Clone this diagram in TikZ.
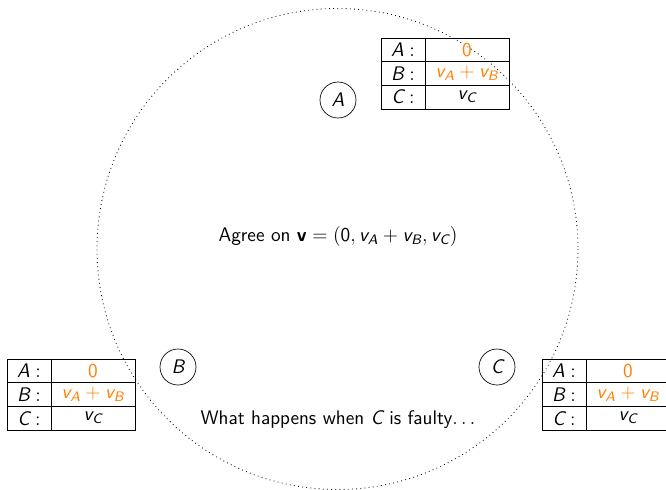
\documentclass[tikz,border=0pt]{standalone}
\renewcommand{\familydefault}{\sfdefault}
% sans serif letters in math, as on the slide
\DeclareSymbolFont{sfletters}{TU}{lmss}{m}{sl}
\DeclareSymbolFont{sfdigits}{TU}{lmss}{m}{n}
\DeclareMathSymbol{A}{\mathalpha}{sfletters}{`A}
\DeclareMathSymbol{B}{\mathalpha}{sfletters}{`B}
\DeclareMathSymbol{C}{\mathalpha}{sfletters}{`C}
\DeclareMathSymbol{v}{\mathalpha}{sfletters}{`v}
\DeclareMathSymbol{0}{\mathalpha}{sfdigits}{`0}
\DeclareMathAlphabet{\mathbf}{TU}{lmss}{bx}{n}
\definecolor{valorange}{RGB}{255,127,0}
\usetikzlibrary{positioning}

\tikzset{
  every node/.style={font=\fontsize{11.8}{14}\selectfont},
  proc/.style={draw, circle, minimum size=21.6pt, inner sep=0pt},
  keycell/.style={draw, line width=0.6pt, minimum width=26.4pt, minimum height=14.2pt, inner sep=0pt, outer sep=0pt},
  valcell/.style={keycell, minimum width=50.4pt},
}

% one table of received values, north west corner at (#2,#3)
\newcommand{\valtable}[3]{%
  \node[keycell, anchor=north west] (#1ka) at (#2,#3) {$A:$};
  \node[valcell, right=0pt of #1ka, text=valorange] (#1va) {$0$};
  \node[keycell, below=0pt of #1ka] (#1kb) {$B:$};
  \node[valcell, right=0pt of #1kb, text=valorange] (#1vb) {$v_A+v_B$};
  \node[keycell, below=0pt of #1kb] (#1kc) {$C:$};
  \node[valcell, right=0pt of #1kc] (#1vc) {$v_C$};
}

\begin{document}
\begin{tikzpicture}[x=0.6pt, y=-0.6pt]
  \useasboundingbox (0,0) rectangle (666,489);
  \draw[dotted, line width=0.5pt] (337.5,249) circle[radius=240.5];

  \node[proc] (A) at (338,100) {$A$};
  \node[proc] (B) at (178,367) {$B$};
  \node[proc] (C) at (497,367) {$C$};

  \valtable{tA}{381}{38}
  \valtable{tB}{7}{359}
  \valtable{tC}{542}{359}

  \node (agree) at (338,236) {Agree on $\mathbf{v} = (0, v_A + v_B, v_C)$};
  \node (faulty) at (338,420) {What happens when $C$ is faulty$\ldots$};
\end{tikzpicture}
\end{document}
